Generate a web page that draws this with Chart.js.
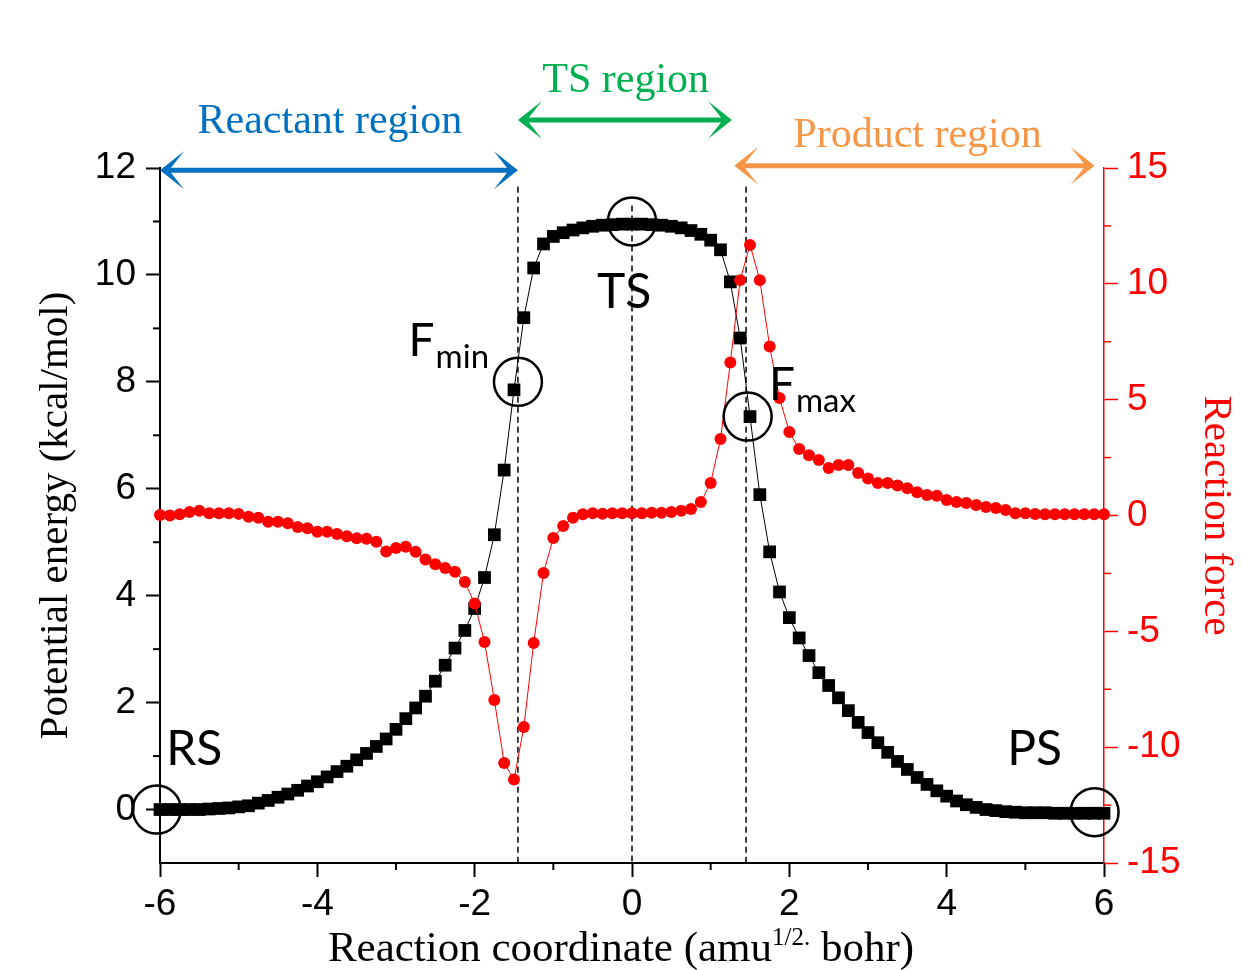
<!DOCTYPE html>
<html>
<head>
<meta charset="utf-8">
<script src="https://cdn.jsdelivr.net/npm/chart.js@4.4.0/dist/chart.umd.min.js"></script>
<style>
  html, body { margin: 0; padding: 0; background: #fff; }
</style>
</head>
<body>
<canvas id="irc" width="1242" height="970"></canvas>
<script>
// reaction coordinate (amu^1/2 bohr)
const coordinate = [
  -6, -5.875, -5.75, -5.625, -5.5, -5.375, -5.25, -5.125,
  -5, -4.875, -4.75, -4.625, -4.5, -4.375, -4.25, -4.125,
  -4, -3.875, -3.75, -3.625, -3.5, -3.375, -3.25, -3.125,
  -3, -2.875, -2.75, -2.625, -2.5, -2.375, -2.25, -2.125,
  -2, -1.875, -1.75, -1.625, -1.5, -1.375, -1.25, -1.125,
  -1, -0.875, -0.75, -0.625, -0.5, -0.375, -0.25, -0.125,
  0, 0.125, 0.25, 0.375, 0.5, 0.625, 0.75, 0.875,
  1, 1.125, 1.25, 1.375, 1.5, 1.625, 1.75, 1.875,
  2, 2.125, 2.25, 2.375, 2.5, 2.625, 2.75, 2.875,
  3, 3.125, 3.25, 3.375, 3.5, 3.625, 3.75, 3.875,
  4, 4.125, 4.25, 4.375, 4.5, 4.625, 4.75, 4.875,
  5, 5.125, 5.25, 5.375, 5.5, 5.625, 5.75, 5.875,
  6
];

// potential energy (kcal/mol), black squares
const energy = [
  0, 0, 0, 0, 0, 0.01, 0.02, 0.03,
  0.05, 0.07, 0.12, 0.17, 0.23, 0.29, 0.36, 0.44,
  0.52, 0.61, 0.71, 0.81, 0.93, 1.05, 1.18, 1.32,
  1.5, 1.7, 1.9, 2.12, 2.4, 2.7, 3.02, 3.35,
  3.76, 4.34, 5.14, 6.35, 7.85, 9.2, 10.13, 10.58,
  10.72, 10.79, 10.84, 10.88, 10.91, 10.93, 10.94, 10.95,
  10.95, 10.95, 10.94, 10.93, 10.91, 10.88, 10.83, 10.76,
  10.65, 10.47, 9.87, 8.82, 7.35, 5.89, 4.82, 4.07,
  3.59, 3.21, 2.88, 2.56, 2.32, 2.09, 1.85, 1.63,
  1.44, 1.25, 1.07, 0.9, 0.75, 0.6, 0.47, 0.35,
  0.25, 0.16, 0.09, 0.04, 0, -0.02, -0.04, -0.05,
  -0.06, -0.06, -0.06, -0.07, -0.07, -0.07, -0.07, -0.07,
  -0.07
];

// reaction force, red circles
const force = [
  0.02, 0, 0.05, 0.15, 0.2, 0.1, 0.1, 0.1,
  0.07, -0.05, -0.1, -0.27, -0.27, -0.33, -0.5, -0.55,
  -0.7, -0.7, -0.8, -0.9, -0.98, -1.0, -1.13, -1.55,
  -1.4, -1.35, -1.57, -1.9, -2.1, -2.27, -2.43, -2.87,
  -3.8, -5.46, -7.96, -10.68, -11.4, -9.13, -5.5, -2.48,
  -0.97, -0.45, -0.1, 0.05, 0.1, 0.08, 0.1, 0.1,
  0.1, 0.1, 0.12, 0.12, 0.15, 0.2, 0.28, 0.58,
  1.4, 3.3, 6.6, 10.16, 11.68, 10.16, 7.3, 5.07,
  3.6, 2.87, 2.6, 2.4, 2.05, 2.18, 2.18, 1.83,
  1.6, 1.4, 1.4, 1.3, 1.18, 1.0, 0.88, 0.85,
  0.67, 0.58, 0.54, 0.45, 0.37, 0.32, 0.24, 0.1,
  0.1, 0.06, 0.05, 0.05, 0.05, 0.05, 0.05, 0.05,
  0.05
];

// tick labels
const xTicks = [-6, -4, -2, 0, 2, 4, 6];
const xMinor = [-5, -3, -1, 1, 3, 5];
const energyTicks = [0, 2, 4, 6, 8, 10, 12];
const energyMinor = [1, 3, 5, 7, 9, 11];
const forceTicks = [-15, -10, -5, 0, 5, 10, 15];
const forceMinor = [-12.5, -7.5, -2.5, 2.5, 7.5, 12.5];

// stationary points and force extrema (x, energy)
const markNames = ['RS', 'Fmin', 'TS', 'Fmax', 'PS'];
const markX = [-6.04, -1.45, 0, 1.47, 5.88];
const markE = [0, 8.0, 11.0, 7.35, -0.05];

// vertical dashed guides
const guideX = [-1.45, 0, 1.45];
const guideTop = [11.65, 11.3, 11.65];

// region arrows
const regionNames = ['Reactant region', 'TS region', 'Product region'];
const regionFrom = [-6, -1.45, 1.3];
const regionTo = [-1.45, 1.27, 5.88];
const regionLevel = [11.96, 12.9, 12.04];
const regionColors = ['#0070c0', '#00b050', '#f79646'];

const SERIF = '"Liberation Serif", "Times New Roman", serif';
const SANS = '"Liberation Sans", Arial, sans-serif';
const LABEL = 'Lato, "Noto Sans", sans-serif';

function doubleArrow(ctx, x1, x2, y, color) {
    const head = 24, half = 19, notch = 9;
    ctx.save();
    ctx.strokeStyle = color;
    ctx.fillStyle = color;
    ctx.lineWidth = 5;
    ctx.beginPath();
    ctx.moveTo(x1 + notch, y);
    ctx.lineTo(x2 - notch, y);
    ctx.stroke();
    [[x1, 1], [x2, -1]].forEach(([tx, d]) => {
        ctx.beginPath();
        ctx.moveTo(tx, y);
        ctx.lineTo(tx + d * head, y - half);
        ctx.lineTo(tx + d * notch, y);
        ctx.lineTo(tx + d * head, y + half);
        ctx.closePath();
        ctx.fill();
    });
    ctx.restore();
}

const annotations = {
    id: 'annotations',
    beforeDatasetsDraw(chart) {
        const ctx = chart.ctx;
        const xs = chart.scales.x, ys = chart.scales.yE;
        ctx.save();
        ctx.strokeStyle = '#000';
        ctx.lineWidth = 1.5;
        ctx.setLineDash([6, 4]);
        guideX.forEach((gx, i) => {
            const px = xs.getPixelForValue(gx);
            ctx.beginPath();
            ctx.moveTo(px, ys.getPixelForValue(guideTop[i]));
            ctx.lineTo(px, chart.chartArea.bottom);
            ctx.stroke();
        });
        ctx.restore();
    },
    afterDatasetsDraw(chart) {
        const ctx = chart.ctx;
        const xs = chart.scales.x, ys = chart.scales.yE, yf = chart.scales.yF;
        const area = chart.chartArea;
        ctx.save();

        // open circles
        ctx.strokeStyle = '#000';
        ctx.lineWidth = 2.5;
        markNames.forEach((n, i) => {
            ctx.beginPath();
            ctx.arc(xs.getPixelForValue(markX[i]), ys.getPixelForValue(markE[i]), 24, 0, 2 * Math.PI);
            ctx.stroke();
        });

        // state labels
        ctx.fillStyle = '#000';
        ctx.textBaseline = 'alphabetic';
        ctx.font = '48px ' + LABEL;
        ctx.textAlign = 'left';
        ctx.fillText('RS', xs.getPixelForValue(-5.92), ys.getPixelForValue(0.84));
        ctx.fillText('PS', xs.getPixelForValue(4.77), ys.getPixelForValue(0.84));
        ctx.textAlign = 'center';
        ctx.fillText('TS', xs.getPixelForValue(-0.1), ys.getPixelForValue(9.38));

        // F with subscript
        const subLabel = (x, e, sub) => {
            ctx.textAlign = 'left';
            ctx.font = '46px ' + LABEL;
            const px = xs.getPixelForValue(x), py = ys.getPixelForValue(e);
            ctx.fillText('F', px, py);
            const w = ctx.measureText('F').width;
            ctx.font = '33px ' + LABEL;
            ctx.fillText(sub, px + w + 1, py + 12);
        };
        subLabel(-2.84, 8.49, 'min');
        subLabel(1.74, 7.66, 'max');

        // region arrows and names
        regionNames.forEach((name, i) => {
            const y = ys.getPixelForValue(regionLevel[i]);
            doubleArrow(ctx, xs.getPixelForValue(regionFrom[i]), xs.getPixelForValue(regionTo[i]), y, regionColors[i]);
        });
        ctx.font = '42px ' + SERIF;
        ctx.textAlign = 'center';
        ctx.fillStyle = regionColors[0];
        ctx.fillText(regionNames[0], xs.getPixelForValue(-3.84), ys.getPixelForValue(12.65));
        ctx.fillStyle = regionColors[1];
        ctx.fillText(regionNames[1], xs.getPixelForValue(-0.08), ys.getPixelForValue(13.42));
        ctx.fillStyle = regionColors[2];
        ctx.fillText(regionNames[2], xs.getPixelForValue(3.63), ys.getPixelForValue(12.39));

        // minor ticks
        ctx.lineWidth = 2;
        ctx.strokeStyle = '#000';
        xMinor.forEach(v => {
            const px = xs.getPixelForValue(v);
            ctx.beginPath(); ctx.moveTo(px, area.bottom); ctx.lineTo(px, area.bottom + 7); ctx.stroke();
        });
        energyMinor.forEach(v => {
            const py = ys.getPixelForValue(v);
            ctx.beginPath(); ctx.moveTo(area.left - 7, py); ctx.lineTo(area.left, py); ctx.stroke();
        });
        ctx.strokeStyle = '#ff0000';
        ctx.lineWidth = 1.5;
        forceMinor.forEach(v => {
            const py = yf.getPixelForValue(v);
            ctx.beginPath(); ctx.moveTo(area.right, py); ctx.lineTo(area.right + 7, py); ctx.stroke();
        });

        // x axis title with superscript
        const parts = [['Reaction coordinate (amu', 43, 0], ['1/2.', 25, -16], [' bohr)', 43, 0]];
        ctx.fillStyle = '#000';
        ctx.textAlign = 'left';
        let total = 0;
        parts.forEach(p => { ctx.font = p[1] + 'px ' + SERIF; total += ctx.measureText(p[0]).width; });
        let tx = (area.left + area.right) / 2 - 11 - total / 2;
        parts.forEach(p => {
            ctx.font = p[1] + 'px ' + SERIF;
            ctx.fillText(p[0], tx, 961 + p[2]);
            tx += ctx.measureText(p[0]).width;
        });
        ctx.restore();
    }
};

const ctx = document.getElementById('irc').getContext('2d');
new Chart(ctx, {
    type: 'line',
    data: {
        datasets: [{
            label: 'Reaction force',
            data: coordinate.map((x, i) => ({ x: x, y: force[i] })),
            yAxisID: 'yF',
            borderColor: '#ff0000',
            backgroundColor: '#ff0000',
            borderWidth: 1,
            pointStyle: 'circle',
            pointRadius: 6,
            pointBorderWidth: 0,
            clip: false,
        }, {
            label: 'Potential energy',
            data: coordinate.map((x, i) => ({ x: x, y: energy[i] })),
            yAxisID: 'yE',
            borderColor: '#000',
            backgroundColor: '#000',
            borderWidth: 1,
            pointStyle: 'rect',
            pointRadius: 9,
            pointBorderWidth: 0,
            clip: false,
        }],
    },
    options: {
        responsive: false,
        animation: false,
        devicePixelRatio: 1,
        layout: { padding: { top: 168, left: 0, right: 0, bottom: 0 } },
        plugins: { legend: { display: false }, tooltip: { enabled: false } },
        scales: {
            x: {
                type: 'linear',
                position: 'bottom',
                min: -6,
                max: 6,
                afterBuildTicks: s => { s.ticks = xTicks.map(v => ({ value: v })); },
                afterFit: s => { s.height = 107; },
                grid: { drawOnChartArea: false, tickLength: 14, tickWidth: 2, tickColor: '#000' },
                border: { color: '#000', width: 2 },
                ticks: { autoSkip: false, maxRotation: 0, padding: 6, color: '#000', font: { family: SANS, size: 37 } },
            },
            yE: {
                type: 'linear',
                position: 'left',
                min: -1,
                max: 12,
                afterBuildTicks: s => { s.ticks = energyTicks.map(v => ({ value: v })); },
                afterFit: s => { s.width = 160; },
                grid: { drawOnChartArea: false, tickLength: 14, tickWidth: 2, tickColor: '#000' },
                border: { color: '#000', width: 2 },
                ticks: { padding: 10, color: '#000', font: { family: SANS, size: 37 } },
                title: {
                    display: true,
                    text: 'Potential energy (kcal/mol)',
                    color: '#000',
                    font: { family: SERIF, size: 41 },
                    padding: { top: 32, bottom: 0 },
                },
            },
            yF: {
                type: 'linear',
                position: 'right',
                min: -15,
                max: 15,
                afterBuildTicks: s => { s.ticks = forceTicks.map(v => ({ value: v })); },
                afterFit: s => { s.width = 138; },
                grid: { drawOnChartArea: false, tickLength: 14, tickWidth: 1.5, tickColor: '#ff0000' },
                border: { color: '#ff0000', width: 1.5 },
                ticks: { padding: 9, color: '#ff0000', font: { family: SANS, size: 37 } },
                title: {
                    display: true,
                    text: 'Reaction force',
                    color: '#ff0000',
                    font: { family: SERIF, size: 41 },
                    padding: { top: 2, bottom: 0 },
                },
            },
        },
    },
    plugins: [annotations],
});
</script>
</body>
</html>
